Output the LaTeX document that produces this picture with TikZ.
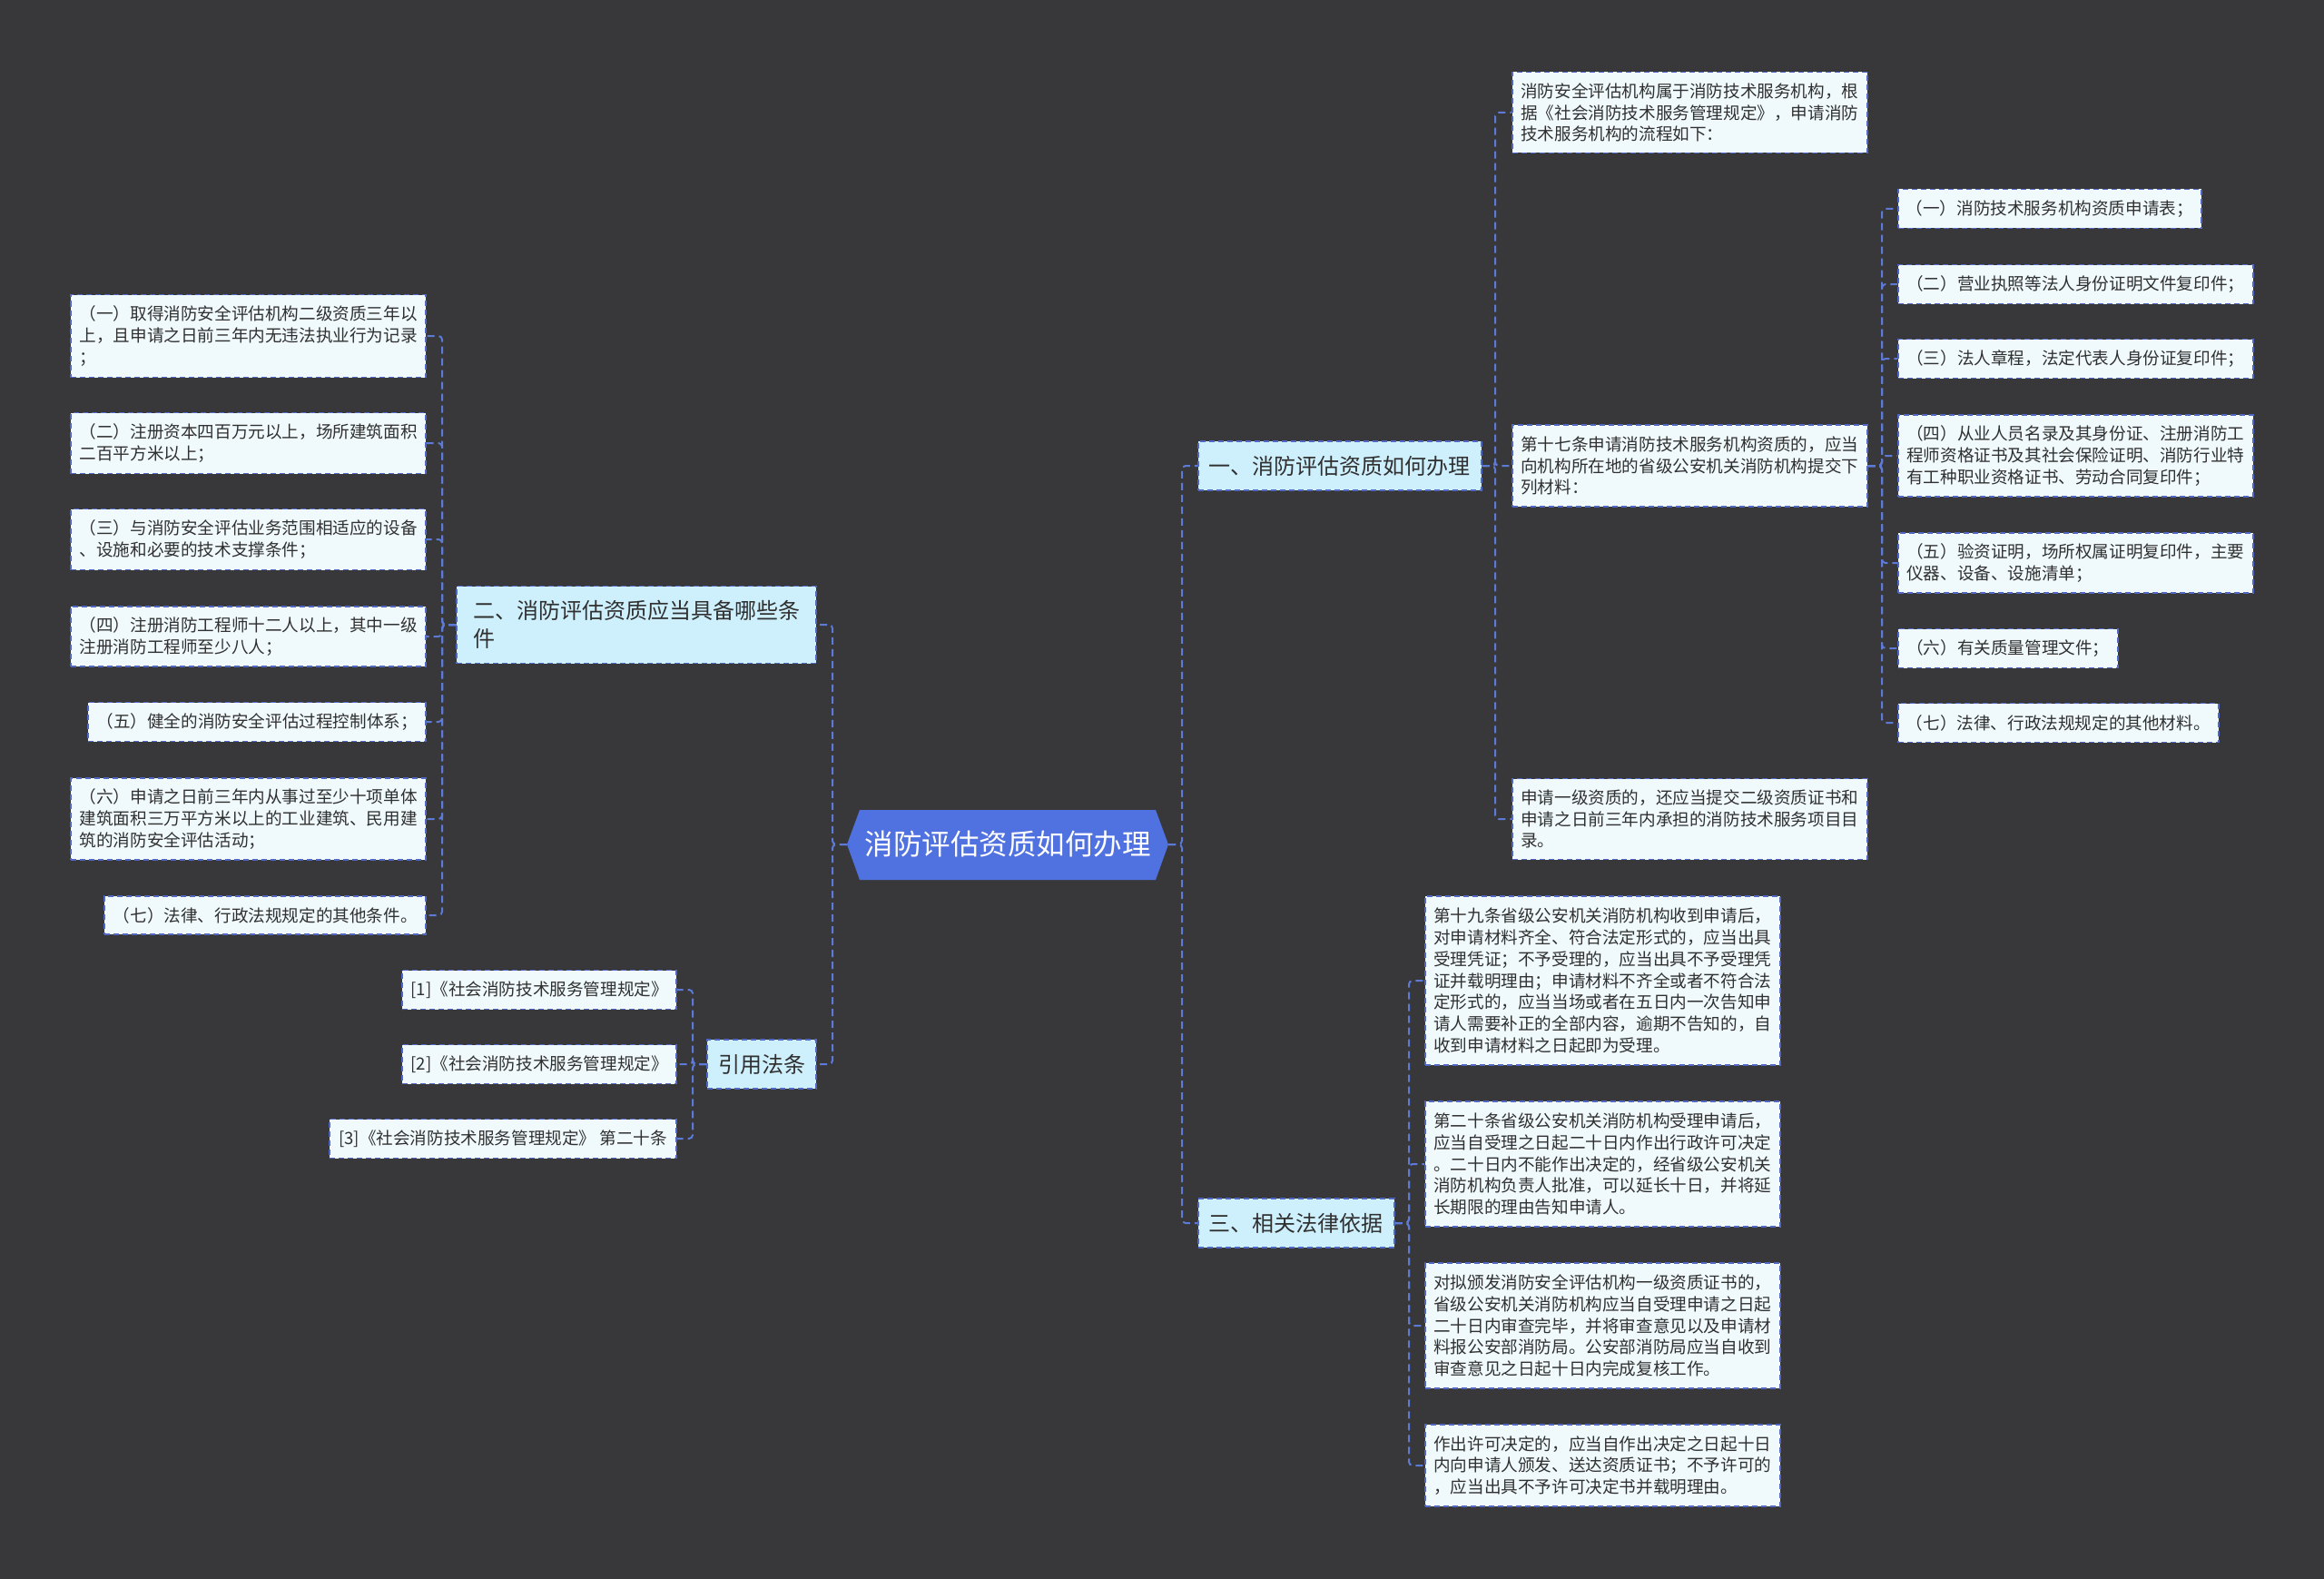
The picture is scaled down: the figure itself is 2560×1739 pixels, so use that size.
\documentclass[tikz,border=0pt]{standalone}
\usepackage{fontspec}
\setmainfont{Noto Sans CJK SC}
\definecolor{bgc}{RGB}{56,56,59}
\definecolor{leafc}{RGB}{240,250,253}
\definecolor{branchc}{RGB}{206,239,252}
\definecolor{bordc}{RGB}{80,104,196}
\definecolor{connc}{RGB}{92,122,214}
\definecolor{rootc}{RGB}{80,113,224}
\definecolor{textc}{RGB}{48,48,48}
\tikzset{
  leaf/.style={draw=bordc, fill=leafc, dash pattern=on 6pt off 4pt, line width=1.6pt,
    font=\fontsize{18.6}{23.7}\selectfont, text=textc, align=left, inner xsep=7pt, inner ysep=6pt},
  branch/.style={draw=bordc, fill=branchc, dash pattern=on 6pt off 4pt, line width=1.6pt,
    font=\fontsize{24}{31}\selectfont, text=textc, align=left, inner xsep=12pt, inner ysep=6pt},
  conn/.style={draw=connc, line width=2pt, dash pattern=on 8pt off 5pt, rounded corners=4pt},
}
\begin{document}
\begin{tikzpicture}[x=1pt,y=-1pt]
\useasboundingbox (0,0) rectangle (2560,1739);
\fill[bgc] (0,0) rectangle (2560,1739);

% root
\fill[rootc] (933,930) -- (947,892) -- (1273,892) -- (1287,930) -- (1273,969) -- (947,969) -- cycle;
\node[minimum width=354pt, minimum height=77pt, inner sep=0pt, text=white, font=\fontsize{31.5}{36}\selectfont] (root) at (1110,930) {消防评估资质如何办理};

% bus coordinates
\coordinate (L0) at (917,0);
\coordinate (R0) at (1302,0);
\coordinate (BA) at (1647,0);
\coordinate (BB) at (2073,0);
\coordinate (BC) at (487,0);
\coordinate (BD) at (763,0);
\coordinate (BE) at (1552,0);

% branches
\node[branch, anchor=west, minimum width=312pt, minimum height=54pt] (n1) at (1319,513) {一、消防评估资质如何办理};
\node[branch, anchor=east, minimum width=396pt, minimum height=85pt] (n2) at (900,688) {二、消防评估资质应当具备哪些条\\件};
\node[branch, anchor=east, minimum width=120pt, minimum height=54pt] (n4) at (900,1172) {引用法条};
\node[branch, anchor=west, minimum width=216pt, minimum height=54pt] (n3) at (1319,1347) {三、相关法律依据};

% A
\node[leaf, anchor=west, minimum width=391pt, minimum height=89pt] (A1) at (1665,124) {消防安全评估机构属于消防技术服务机构，根\\据《社会消防技术服务管理规定》，申请消防\\技术服务机构的流程如下：};
\node[leaf, anchor=west, minimum width=391pt, minimum height=90pt] (A2) at (1665,513) {第十七条申请消防技术服务机构资质的，应当\\向机构所在地的省级公安机关消防机构提交下\\列材料：};
\node[leaf, anchor=west, minimum width=391pt, minimum height=89pt] (A3) at (1665,902) {申请一级资质的，还应当提交二级资质证书和\\申请之日前三年内承担的消防技术服务项目目\\录。};

% B
\node[leaf, anchor=west, minimum width=334pt, minimum height=43pt] (B1) at (2090,230) {（一）消防技术服务机构资质申请表；};
\node[leaf, anchor=west, minimum width=391pt, minimum height=43pt] (B2) at (2090,313) {（二）营业执照等法人身份证明文件复印件；};
\node[leaf, anchor=west, minimum width=391pt, minimum height=43pt] (B3) at (2090,395) {（三）法人章程，法定代表人身份证复印件；};
\node[leaf, anchor=west, minimum width=391pt, minimum height=90pt] (B4) at (2090,502) {（四）从业人员名录及其身份证、注册消防工\\程师资格证书及其社会保险证明、消防行业特\\有工种职业资格证书、劳动合同复印件；};
\node[leaf, anchor=west, minimum width=391pt, minimum height=66pt] (B5) at (2090,620) {（五）验资证明，场所权属证明复印件，主要\\仪器、设备、设施清单；};
\node[leaf, anchor=west, minimum width=242pt, minimum height=43pt] (B6) at (2090,714) {（六）有关质量管理文件；};
\node[leaf, anchor=west, minimum width=353pt, minimum height=43pt] (B7) at (2090,796) {（七）法律、行政法规规定的其他材料。};

% C
\node[leaf, anchor=east, minimum width=391pt, minimum height=91pt] (C1) at (470,370) {（一）取得消防安全评估机构二级资质三年以\\上，且申请之日前三年内无违法执业行为记录\\；};
\node[leaf, anchor=east, minimum width=391pt, minimum height=67pt] (C2) at (470,488) {（二）注册资本四百万元以上，场所建筑面积\\二百平方米以上；};
\node[leaf, anchor=east, minimum width=391pt, minimum height=67pt] (C3) at (470,594) {（三）与消防安全评估业务范围相适应的设备\\、设施和必要的技术支撑条件；};
\node[leaf, anchor=east, minimum width=391pt, minimum height=66pt] (C4) at (470,701) {（四）注册消防工程师十二人以上，其中一级\\注册消防工程师至少八人；};
\node[leaf, anchor=east, minimum width=372pt, minimum height=43pt] (C5) at (470,795) {（五）健全的消防安全评估过程控制体系；};
\node[leaf, anchor=east, minimum width=391pt, minimum height=90pt] (C6) at (470,902) {（六）申请之日前三年内从事过至少十项单体\\建筑面积三万平方米以上的工业建筑、民用建\\筑的消防安全评估活动；};
\node[leaf, anchor=east, minimum width=354pt, minimum height=42pt] (C7) at (470,1008) {（七）法律、行政法规规定的其他条件。};

% D
\node[leaf, anchor=east, minimum width=302pt, minimum height=43pt] (D1) at (746,1090) {[1]《社会消防技术服务管理规定》};
\node[leaf, anchor=east, minimum width=302pt, minimum height=43pt] (D2) at (746,1172) {[2]《社会消防技术服务管理规定》};
\node[leaf, anchor=east, minimum width=382pt, minimum height=43pt] (D3) at (746,1254) {[3]《社会消防技术服务管理规定》 第二十条};

% E
\node[leaf, anchor=west, minimum width=391pt, minimum height=186pt] (E1) at (1569,1080) {第十九条省级公安机关消防机构收到申请后，\\对申请材料齐全、符合法定形式的，应当出具\\受理凭证；不予受理的，应当出具不予受理凭\\证并载明理由；申请材料不齐全或者不符合法\\定形式的，应当当场或者在五日内一次告知申\\请人需要补正的全部内容，逾期不告知的，自\\收到申请材料之日起即为受理。};
\node[leaf, anchor=west, minimum width=391pt, minimum height=138pt] (E2) at (1569,1282) {第二十条省级公安机关消防机构受理申请后，\\应当自受理之日起二十日内作出行政许可决定\\。二十日内不能作出决定的，经省级公安机关\\消防机构负责人批准，可以延长十日，并将延\\长期限的理由告知申请人。};
\node[leaf, anchor=west, minimum width=391pt, minimum height=138pt] (E3) at (1569,1460) {对拟颁发消防安全评估机构一级资质证书的，\\省级公安机关消防机构应当自受理申请之日起\\二十日内审查完毕，并将审查意见以及申请材\\料报公安部消防局。公安部消防局应当自收到\\审查意见之日起十日内完成复核工作。};
\node[leaf, anchor=west, minimum width=391pt, minimum height=90pt] (E4) at (1569,1614) {作出许可决定的，应当自作出决定之日起十日\\内向申请人颁发、送达资质证书；不予许可的\\，应当出具不予许可决定书并载明理由。};

% connectors
\foreach \c in {n2,n4} \draw[conn] (root.west) -- (root.west -| L0) |- (\c.east);
\foreach \c in {n1,n3} \draw[conn] (root.east) -- (root.east -| R0) |- (\c.west);
\foreach \c in {A1,A2,A3} \draw[conn] (n1.east) -- (n1.east -| BA) |- (\c.west);
\foreach \c in {B1,B2,B3,B4,B5,B6,B7} \draw[conn] (A2.east) -- (A2.east -| BB) |- (\c.west);
\foreach \c in {C1,C2,C3,C4,C5,C6,C7} \draw[conn] (n2.west) -- (n2.west -| BC) |- (\c.east);
\foreach \c in {D1,D2,D3} \draw[conn] (n4.west) -- (n4.west -| BD) |- (\c.east);
\foreach \c in {E1,E2,E3,E4} \draw[conn] (n3.east) -- (n3.east -| BE) |- (\c.west);
\end{tikzpicture}
\end{document}
